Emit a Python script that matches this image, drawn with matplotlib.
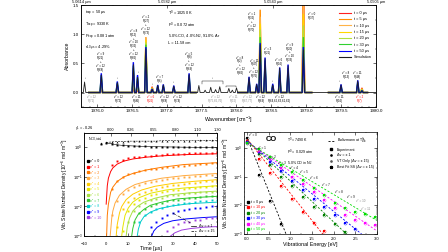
import numpy as np
import matplotlib.pyplot as plt
from matplotlib.lines import Line2D
from matplotlib.ticker import MultipleLocator, LogLocator, NullFormatter

plt.rcParams['font.family'] = ['Liberation Sans', 'DejaVu Sans']
plt.rcParams['mathtext.default'] = 'regular'
plt.rcParams['xtick.direction'] = 'in'
plt.rcParams['ytick.direction'] = 'in'
plt.rcParams['xtick.major.size'] = 2
plt.rcParams['ytick.major.size'] = 2
plt.rcParams['xtick.minor.size'] = 1
plt.rcParams['ytick.minor.size'] = 1
plt.rcParams['axes.linewidth'] = 0.5
plt.rcParams['xtick.major.width'] = 0.4
plt.rcParams['ytick.major.width'] = 0.4
plt.rcParams['xtick.minor.width'] = 0.3
plt.rcParams['ytick.minor.width'] = 0.3
nan = np.nan
VV = '\u2033'

# ---------------- top panel: spectra ----------------
peak_wn = [1976.06, 1976.29, 1976.52, 1976.58, 1976.70, 1976.79, 1976.87, 1976.95, 1977.10,
           1977.32, 1978.18, 1978.29, 1978.34, 1978.41, 1978.52, 1978.62, 1978.74, 1978.96,
           1979.50, 1979.74, 1979.80]
abs_sim = [0.30, 0.17, 0.48, 0.26, 0.75, 0.05, 0.12, 0.13, 0.11, 0.31, 0.26, 0.14, 0.82, 0.58,
           0.13, 0.42, 0.46, 0.73, 0.13, 0.20, 0.03]
abs_t50 = [0.33, 0.19, 0.52, 0.30, 0.78, 0.06, 0.13, 0.14, 0.12, 0.33, 0.27, 0.15, 0.85, 0.60,
           0.15, 0.43, 0.48, 0.78, 0.14, 0.21, 0.03]
abs_t30 = [0.30, 0.17, 0.46, 0.27, 0.82, 0.06, 0.12, 0.12, 0.10, 0.30, 0.24, 0.13, 0.95, 0.55,
           0.13, 0.38, 0.42, 0.95, 0.12, 0.18, 0.04]
abs_t20 = [0.27, 0.15, 0.42, 0.24, 0.86, 0.07, 0.10, 0.10, 0.09, 0.27, 0.21, 0.11, 1.08, 0.50,
           0.11, 0.34, 0.37, 1.15, 0.10, 0.16, 0.05]
abs_t15 = [0.24, 0.13, 0.37, 0.21, 0.90, 0.07, 0.09, 0.09, 0.08, 0.24, 0.19, 0.10, 1.18, 0.45,
           0.10, 0.30, 0.32, 1.35, 0.09, 0.14, 0.05]
abs_t10 = [0.20, 0.11, 0.31, 0.18, 0.94, 0.08, 0.07, 0.07, 0.06, 0.20, 0.16, 0.08, 1.30, 0.40,
           0.08, 0.25, 0.26, 1.60, 0.07, 0.11, 0.06]
abs_t5 = [0.13, 0.08, 0.22, 0.13, 0.95, 0.09, 0.05, 0.05, 0.04, 0.14, 0.11, 0.06, 1.42, 0.33,
          0.06, 0.18, 0.18, 1.90, 0.05, 0.08, 0.07]
abs_t0 = [0.04, 0.03, 0.07, 0.05, 0.45, 0.10, 0.02, 0.02, 0.02, 0.05, 0.04, 0.03, 0.30, 0.15,
          0.03, 0.06, 0.05, 2.10, 0.02, 0.03, 0.08]
sim_only_wn = [1975.82, 1977.46, 1977.55, 1977.63, 1977.70, 1977.76, 1977.89, 1977.94, 1978.00]
sim_only_abs = [0.18, 0.12, 0.04, 0.09, 0.05, 0.10, 0.07, 0.04, 0.08]

spec_labels = ['t = 0 \u00b5s', 't = 5 \u00b5s', 't = 10 \u00b5s', 't = 15 \u00b5s',
               't = 20 \u00b5s', 't = 30 \u00b5s', 't = 50 \u00b5s']
spec_colors = ['#ff2020', '#ff8c00', '#ffb347', '#ffd700', '#b0e040', '#30d030', '#0000ff']
exp_segments = [(1975.88, 1977.42), (1978.02, 1979.08), (1979.32, 1979.88)]
wl_ticks = [5.0614, 5.0582, 5.0543, 5.0505]

peak_text = [
    (1976.05, 0.36, f"v{VV} = 9\nR(21)\n+\nv{VV} = 12\nR(68)", 'k'),
    (1975.83, 0.22, "\u2193", 'k'),
    (1976.29, 0.21, "\u2193", 'k'),
    (1976.52, 0.56, f"v{VV} = 8\nR(12)\n+\nv{VV} = 10\nR(32)\n+\nv{VV} = 12\nR(66)", 'k'),
    (1976.59, 0.32, "\u2193", 'k'),
    (1976.70, 0.99, f"v{VV} = 2\nR(27)\n+\nv{VV} = 12\nR(73)", 'k'),
    (1976.79, 0.12, "\u2193", 'k'),
    (1976.90, 0.17, f"v{VV} = 7\nR(6)", 'k'),
    (1977.10, 0.15, "\u2193", 'k'),
    (1977.32, 0.37, f"v{VV} = 5\nR(8)\n+\nv{VV} = 12\nR(69)", 'k'),
    (1977.65, 0.22, "\u2193", 'k'),
    (1978.05, 0.30, f"v{VV} = 8\nR(2)\n+\nv{VV} = 12\nR(66)", 'k'),
    (1978.25, 0.25, f"v{VV} = 11\nR(47)\n+\nv{VV} = 12\nR(76)", 'k'),
    (1978.22, 1.04, f"v{VV} = 1\nR(32)\n+\nv{VV} = 12\nR(70)", 'k'),
    (1978.45, 0.64, f"v{VV} = 3\nR(21)", 'k'),
    (1978.52, 0.17, "\u2193", 'k'),
    (1978.61, 0.46, f"v{VV} = 6\nR(16)", 'k'),
    (1978.76, 0.52, f"v{VV} = 9\nR(20)\n+\nv{VV} = 10\nR(33)", 'k'),
    (1979.08, 1.24, f"v{VV} = 0\nR(37)", 'k'),
    (1979.47, 0.16, "\u2193", 'k'),
    (1979.57, 0.23, f"v{VV} = 8\nR(13)", 'k'),
    (1979.74, 0.23, f"v{VV} = 11\nR(48)", 'k'),
]
grey = '#8a8a8a'
line_text = [
    (1975.92, f"v{VV} = 12\nR(71)", grey),
    (1976.30, f"v{VV} = 12\nR(72)", 'k'),
    (1976.56, f"v{VV} = 11\nR(46)", 'k'),
    (1976.77, f"v{VV} = 6\nR(26)", 'red'),
    (1976.96, f"v{VV} = 12\nR(68)", 'k'),
    (1977.15, f"v{VV} = 12\nR(74)", 'k'),
    (1977.70, f"v{VV} = 12\nR(75,66,76)", grey),
    (1977.96, f"v{VV} = 11\nR(15)", grey),
    (1978.15, f"v{VV} = 12\nR(67,77)", grey),
    (1978.35, f"v{VV} = 12\nR(69)", 'k'),
    (1978.62, f"v{VV} = 12\nR(64,65,63,61,62)", 'k'),
    (1979.48, f"v{VV} = 11\nR(16)", 'k'),
    (1979.77, f"v{VV} = 2\nR(7)", 'red'),
]

# ---------------- bottom left: number density vs time ----------------
t_black = [-2.5, 0, 2.5, 5, 7.5, 10, 12.5, 15, 17.5, 20, 22.5, 25, 27.5, 30, 32.5, 35, 37.5,
           40, 42.5, 45, 47.5, 50]
n_total = [1.35, 1.45, 1.5, 1.55, 1.55, 1.6, 1.6, 1.6, 1.6, 1.6, 1.6, 1.65, 1.65, 1.65, 1.65,
           1.65, 1.65, 1.65, 1.7, 1.7, 1.7, 1.7]
n_v0 = [1.3, 1.4, 1.3, 1.2, 1.15, 1.12, 1.1, 1.08, 1.06, 1.05, 1.04, 1.03, 1.02, 1.02, 1.01,
        1.0, 1.0, 0.99, 0.99, 0.98, 0.98, 0.97]
t_meas = [2.5, 5, 7.5, 10, 12.5, 15, 17.5, 20, 22.5, 25, 27.5, 30, 32.5, 35, 37.5, 40, 42.5,
          45, 47.5, 50]
n_meas = [
    [0.25, 0.33, 0.38, 0.42, 0.45, 0.48, 0.50, 0.52, 0.54, 0.56, 0.57, 0.59, 0.60, 0.61, 0.62,
     0.63, 0.64, 0.65, 0.66, 0.67],
    [0.04, 0.075, 0.10, 0.12, 0.14, 0.155, 0.17, 0.18, 0.19, 0.20, 0.21, 0.22, 0.23, 0.24,
     0.25, 0.26, 0.27, 0.28, 0.29, 0.30],
    [0.005, 0.015, 0.026, 0.035, 0.044, 0.052, 0.060, 0.066, 0.072, 0.078, 0.083, 0.088, 0.093,
     0.097, 0.10, 0.105, 0.11, 0.113, 0.117, 0.12],
    [nan, 0.002, 0.008, 0.014, 0.020, 0.026, 0.031, 0.036, 0.040, 0.044, 0.048, 0.052, 0.055,
     0.058, 0.061, 0.064, 0.067, 0.070, 0.072, 0.075],
    [nan, nan, 0.0015, 0.007, 0.012, 0.016, 0.020, 0.024, 0.027, 0.030, 0.033, 0.035, 0.037,
     0.039, 0.041, 0.043, 0.045, 0.047, 0.048, 0.050],
    [nan, nan, nan, 0.003, 0.007, 0.010, 0.013, 0.016, 0.018, 0.020, 0.022, 0.024, 0.025,
     0.027, 0.028, 0.029, 0.030, 0.031, 0.032, 0.033],
    [nan, nan, nan, nan, 0.003, 0.006, 0.008, 0.010, 0.012, 0.013, 0.015, 0.016, 0.017, 0.018,
     0.019, 0.020, 0.021, 0.022, 0.022, 0.023],
    [nan, nan, nan, nan, nan, 0.003, 0.005, 0.0065, 0.008, 0.009, 0.010, 0.011, 0.012, 0.013,
     0.013, 0.014, 0.015, 0.015, 0.016, 0.016],
    [nan, nan, nan, nan, nan, nan, nan, 0.002, 0.003, 0.004, 0.005, 0.006, 0.007, 0.0075,
     0.008, 0.009, 0.009, 0.0095, 0.010, 0.010],
    [nan, nan, nan, nan, nan, nan, nan, nan, nan, nan, 0.0015, 0.002, 0.0025, 0.003, 0.003,
     0.0035, 0.0035, 0.004, 0.004, 0.004],
]
t_model = [
    [0, 0.5, 1, 2, 3, 5, 8, 12, 18, 25, 35, 50],
    [0.2, 0.5, 1, 2, 3, 5, 8, 12, 18, 25, 35, 50],
    [1.8, 2.5, 3, 4, 6, 9, 13, 18, 25, 35, 50],
    [4.5, 5, 6, 7, 9, 12, 16, 22, 30, 40, 50],
    [7, 7.5, 8.5, 10, 12, 15, 20, 27, 35, 50],
    [9, 9.5, 10.5, 12, 14, 17, 22, 29, 38, 50],
    [11.5, 12, 13, 14.5, 17, 20, 25, 32, 40, 50],
    [14, 14.5, 15.5, 17, 20, 24, 30, 38, 50],
    [20.5, 21.5, 23, 26, 30, 36, 43, 50],
    [29, 31, 34, 38, 44, 50],
]
n_model = [
    [0.012, 0.05, 0.09, 0.15, 0.20, 0.27, 0.34, 0.40, 0.46, 0.51, 0.56, 0.60],
    [0.001, 0.005, 0.012, 0.03, 0.045, 0.07, 0.10, 0.13, 0.17, 0.21, 0.26, 0.30],
    [0.001, 0.004, 0.007, 0.013, 0.024, 0.038, 0.055, 0.07, 0.09, 0.11, 0.13],
    [0.001, 0.0025, 0.006, 0.010, 0.017, 0.026, 0.036, 0.048, 0.060, 0.071, 0.080],
    [0.001, 0.002, 0.005, 0.009, 0.014, 0.020, 0.028, 0.036, 0.042, 0.050],
    [0.001, 0.002, 0.004, 0.007, 0.010, 0.014, 0.019, 0.025, 0.029, 0.033],
    [0.001, 0.0018, 0.0035, 0.0055, 0.008, 0.011, 0.014, 0.018, 0.020, 0.022],
    [0.001, 0.0017, 0.003, 0.0045, 0.0065, 0.0085, 0.0105, 0.0125, 0.014],
    [0.001, 0.0015, 0.002, 0.0027, 0.0033, 0.0038, 0.0042, 0.0045],
    [0.001, 0.0013, 0.0016, 0.0018, 0.0020, 0.0021],
]
level_colors = ['#ff0000', '#ff7a00', '#ffaa40', '#ffcc00', '#e6e600', '#a8e040', '#30c830',
                '#00cccc', '#0000ff', '#a040e0']
gamma_pos = [-10, 2.1, 11.1, 21.2, 31.1, 41.0, 50.0]
gamma_lab = ['\u03b3$_1$ = -0.26', '0.00', '0.26', '0.55', '0.80', '1.10', '1.30']

# ---------------- bottom right: distributions ----------------
E_vib = [0.0, 0.266, 0.528, 0.787, 1.042, 1.294, 1.542, 1.787, 2.029, 2.267, 2.502, 2.734, 2.963]
dist_times = ['t = 0 \u00b5s', 't = 10 \u00b5s', 't = 20 \u00b5s', 't = 30 \u00b5s',
              't = 40 \u00b5s', 't = 50 \u00b5s']
dist_colors = ['black', 'red', '#008000', 'blue', 'magenta', '#00dd00']
dist_vals = [
    [2.2, 0.11, 0.014, 0.0022, nan, nan, nan, nan, nan, nan, nan, nan, nan],
    [1.7, 0.42, 0.13, 0.045, 0.017, 0.006, 0.0025, 0.0013, nan, nan, nan, nan, nan],
    [1.6, 0.60, 0.25, 0.10, 0.045, 0.020, 0.009, 0.0045, 0.0022, 0.0012, nan, nan, nan],
    [1.55, 0.70, 0.33, 0.15, 0.07, 0.035, 0.017, 0.009, 0.0045, 0.0025, 0.0015, nan, nan],
    [1.5, 0.80, 0.40, 0.20, 0.10, 0.055, 0.028, 0.015, 0.008, 0.0045, 0.003, 0.0025, 0.002],
    [1.45, 0.90, 0.48, 0.26, 0.14, 0.075, 0.040, 0.022, 0.012, 0.008, 0.006, 0.005, 0.004],
]
boltz_E = [[0, 0.9], [0, 1.75], [0, 2.3], [0, 2.65], [0, 3.0], [0, 3.0]]
boltz_N = [[2.2, 1e-3], [2.0, 1e-3], [1.8, 1e-3], [1.7, 1e-3], [1.6, 1.3e-3], [1.5, 3e-3]]
vlab_E = [0.14, 0.35, 0.58, 0.81, 1.08, 1.32, 1.55, 1.82, 2.12, 2.40, 2.62, 2.75]
vlab_N = [2.4, 0.85, 0.42, 0.26, 0.17, 0.12, 0.077, 0.044, 0.025, 0.017, 0.012, 0.0065]


def spectrum(centers, heights, lo, hi, w=0.018):
    xs, ys = [lo], [0.0]
    for c, h in sorted(zip(centers, heights)):
        if lo < c < hi:
            xs += [c - w, c, c + w]
            ys += [0.0, h, 0.0]
    xs.append(hi)
    ys.append(0.0)
    return xs, ys


fig = plt.figure(figsize=(4.48, 2.52), dpi=100)

# ===== top =====
ax1 = fig.add_axes([0.181, 0.575, 0.658, 0.405])
traces = [abs_t0, abs_t5, abs_t10, abs_t15, abs_t20, abs_t30, abs_t50]
for vals, col in zip(traces, spec_colors):
    for lo, hi in exp_segments:
        xs, ys = spectrum(peak_wn, vals, lo, hi)
        ax1.plot(xs, ys, color=col, lw=1.0, solid_joinstyle='miter')
xs, ys = spectrum(peak_wn + sim_only_wn, abs_sim + sim_only_abs, 1975.77, 1980.0)
ax1.plot(xs, ys, color='#202020', lw=0.6)

ax1.set_xlim(1975.77, 1980.0)
ax1.set_ylim(-0.25, 1.5)
ax1.xaxis.set_major_locator(MultipleLocator(0.5))
ax1.xaxis.set_minor_locator(MultipleLocator(0.1))
ax1.yaxis.set_major_locator(MultipleLocator(0.5))
ax1.yaxis.set_minor_locator(MultipleLocator(0.25))
ax1.xaxis.set_major_formatter(plt.FormatStrFormatter('%.1f'))
ax1.yaxis.set_major_formatter(plt.FormatStrFormatter('%.1f'))
ax1.tick_params(labelsize=3.2, pad=1.5, right=True, which='both')
ax1.set_xlabel('Wavenumber [cm$^{-1}$]', fontsize=3.8, labelpad=1)
ax1.set_ylabel('Absorbance', fontsize=3.8, labelpad=2)

ax1t = ax1.twiny()
ax1t.set_xlim(ax1.get_xlim())
ax1t.set_xticks([1e4 / w for w in wl_ticks])
ax1t.set_xticklabels([f'{w:.4f} \u00b5m' for w in wl_ticks])
ax1t.xaxis.set_minor_locator(MultipleLocator(0.2))
ax1t.tick_params(labelsize=2.8, pad=0.8, which='both')

for x, y, s, c in peak_text:
    ax1.text(x, y, s, fontsize=2.1, color=c, ha='center', va='bottom', linespacing=0.95)
for x, s, c in line_text:
    ax1.text(x, -0.05, s, fontsize=2.1, color=c, ha='center', va='top', linespacing=0.95)
ax1.plot([1977.5, 1977.5, 1977.8, 1977.8], [0.15, 0.2, 0.2, 0.15], color='k', lw=0.3)
ax1.plot([1977.85, 1977.85, 1978.0, 1978.0], [0.09, 0.12, 0.12, 0.09], color='k', lw=0.3)

ax1.text(1975.82, 1.44, 't$_{exp}$ = 50 \u00b5s\nT$_{exp}$ = 9330 K\nP$_{exp}$ = 0.081 atm\n'
         '\u03c4$_{10\\ \u00b5s}$ = 4.29%', fontsize=2.8, va='top', ha='left', linespacing=1.5)
ax1.text(1977.02, 1.44, 'T$^0$ = 10250 K\nP$^0$ = 0.072 atm\n5.0% CO, 4.0% N$_2$, 91.0% Ar\n'
         'L = 11.58 cm', fontsize=2.8, va='top', ha='left', linespacing=1.5)

handles = [Line2D([], [], color=c, lw=0.8) for c in spec_colors]
handles.append(Line2D([], [], color='#202020', lw=0.8))
ax1.legend(handles, spec_labels + ['Simulation'], loc='upper right', fontsize=2.8,
           frameon=False, handlelength=3.2, labelspacing=0.6, borderaxespad=0.6,
           bbox_to_anchor=(1.0, 0.98))

# ===== bottom left =====
ax2 = fig.add_axes([0.1875, 0.063, 0.297, 0.409])
ax2.set_yscale('log')
for tt, nn, col in zip(t_model, n_model, level_colors):
    ax2.plot(tt, nn, color=col, lw=0.7)
for nn, col in zip(n_meas, level_colors):
    ax2.plot(t_meas, nn, 's', color=col, ms=1.4, mew=0)
ax2.plot(t_black, n_total, 'k^', ms=1.4, mew=0)
ax2.plot(t_black, n_v0, 'ks', ms=1.4, mew=0)
ax2.plot(t_black[1:], n_total[1:], 'k--', lw=0.4)
ax2.plot(t_black[1:], n_v0[1:], 'k-', lw=0.4)
ax2.set_xlim(-10, 50)
ax2.set_ylim(1e-3, 3)
ax2.xaxis.set_major_locator(MultipleLocator(10))
ax2.xaxis.set_minor_locator(MultipleLocator(5))
ax2.yaxis.set_major_locator(LogLocator(base=10, numticks=10))
ax2.yaxis.set_minor_locator(LogLocator(base=10, subs=np.arange(2, 10), numticks=10))
ax2.yaxis.set_minor_formatter(NullFormatter())
ax2.tick_params(labelsize=3.0, pad=1.2, right=True, which='both')
ax2.tick_params(axis='x', pad=4.2)
ax2.set_xlabel('Time [\u00b5s]', fontsize=3.8, labelpad=0.3)
ax2.set_ylabel('Vib. State Number Density [10$^{-6}$ mol m$^{-3}$]', fontsize=3.5, labelpad=1.5)
ax2.text(-8, 1.9, 'N$_{CO,total}$', fontsize=2.6, va='center')

ax2t = ax2.twiny()
ax2t.set_xlim(ax2.get_xlim())
ax2t.set_xticks(gamma_pos)
ax2t.set_xticklabels(gamma_lab)
ax2t.tick_params(labelsize=2.8, pad=0.8)

lev_handles = [Line2D([], [], marker='s', ls='', color='k', ms=1.4)]
lev_handles += [Line2D([], [], marker='s', ls='', color=c, ms=1.4) for c in level_colors]
leg = ax2.legend(lev_handles, [f'v{VV} = {i}' for i in range(11)], loc='upper left',
                 bbox_to_anchor=(0.0, 0.77), fontsize=2.6, frameon=False, handlelength=0.6,
                 handletextpad=0.4, labelspacing=0.45, borderaxespad=0.3)
for txt, c in zip(leg.get_texts(), ['k'] + level_colors):
    txt.set_color(c)
ax2.add_artist(leg)
ax2.plot([30, 38], [0.006, 0.0028], 'k-.', lw=0.4)
ax2.legend([Line2D([], [], color='k', lw=0.5), Line2D([], [], color='k', lw=0.5, ls='--')],
           ['\u0394v = \u00b1 1', '\u0394v = \u00b1 15'], loc='lower right', fontsize=2.6,
           frameon=False, handlelength=1.2, labelspacing=0.3, borderaxespad=0.4)

# ===== bottom right =====
ax3 = fig.add_axes([0.545, 0.071, 0.296, 0.405])
ax3.set_yscale('log')
for ee, nn, col in zip(boltz_E, boltz_N, dist_colors):
    ax3.plot(ee, nn, '--', color=col, lw=0.6, dashes=(2.5, 2))
for vals, col in zip(dist_vals, dist_colors):
    ax3.plot(E_vib, vals, 's', color=col, ms=1.6, mew=0)
    ax3.plot(E_vib, vals, 'o', mfc='none', mec=col, ms=2.2, mew=0.3)
ax3.set_xlim(-0.07, 3.0)
ax3.set_ylim(1e-3, 3.5)
ax3.xaxis.set_major_locator(MultipleLocator(0.5))
ax3.xaxis.set_minor_locator(MultipleLocator(0.25))
ax3.xaxis.set_major_formatter(plt.FormatStrFormatter('%.1f'))
ax3.yaxis.set_major_locator(LogLocator(base=10, numticks=10))
ax3.yaxis.set_minor_locator(LogLocator(base=10, subs=np.arange(2, 10), numticks=10))
ax3.yaxis.set_minor_formatter(NullFormatter())
ax3.tick_params(labelsize=3.0, pad=1.2, right=True, top=True, which='both')
ax3.tick_params(axis='x', pad=2.0)
ax3.set_xlabel('Vibrational Energy [eV]', fontsize=3.8, labelpad=1)
ax3.set_ylabel('Vib. State Number Density [10$^{-6}$ mol m$^{-3}$]', fontsize=3.5, labelpad=1.5)
for i, (e, n) in enumerate(zip(vlab_E, vlab_N)):
    ax3.text(e, n, f'v{VV} = {i}', fontsize=2.2, ha='center', va='bottom',
             color=grey if i >= 10 else 'k')
ax3.text(0.44, 1.9, 'CO', fontsize=5.5, fontweight='bold', va='center')
ax3.text(0.92, 2.6, 'T$^0$ = 7490 K\nP$^0$ = 0.029 atm\n5.0% CO in N$_2$', fontsize=2.6,
         va='top', linespacing=1.4)

tleg = ax3.legend([Line2D([], [], marker='s', ls='', color=c, ms=1.6) for c in dist_colors],
                  dist_times, loc='lower left', fontsize=2.6, frameon=False, handlelength=0.6,
                  handletextpad=0.4, labelspacing=0.4, borderaxespad=0.4)
for txt, c in zip(tleg.get_texts(), dist_colors):
    txt.set_color(c)
ax3.add_artist(tleg)
type_handles = [Line2D([], [], color='k', ls='--', lw=0.6, dashes=(2.5, 2)),
                Line2D([], [], marker='s', ls='', color='k', ms=1.8),
                Line2D([], [], marker='.', ls='', color='k', ms=1.8),
                Line2D([], [], marker='.', ls='', color='#555555', ms=1.8),
                Line2D([], [], marker='*', ls='', color='k', ms=2.2)]
ax3.legend(type_handles, ['Boltzmann at T$_{vib}^{fit}$', 'Experiment', '\u0394v = \u00b1 1',
                          'VT Only (\u0394v = \u00b1 15)', 'Best Fit SS (\u0394v = \u00b1 15)'],
           loc='upper right', fontsize=2.6, frameon=False, handlelength=1.6, labelspacing=0.5,
           borderaxespad=0.5)

fig.savefig('out.png', dpi=100)
